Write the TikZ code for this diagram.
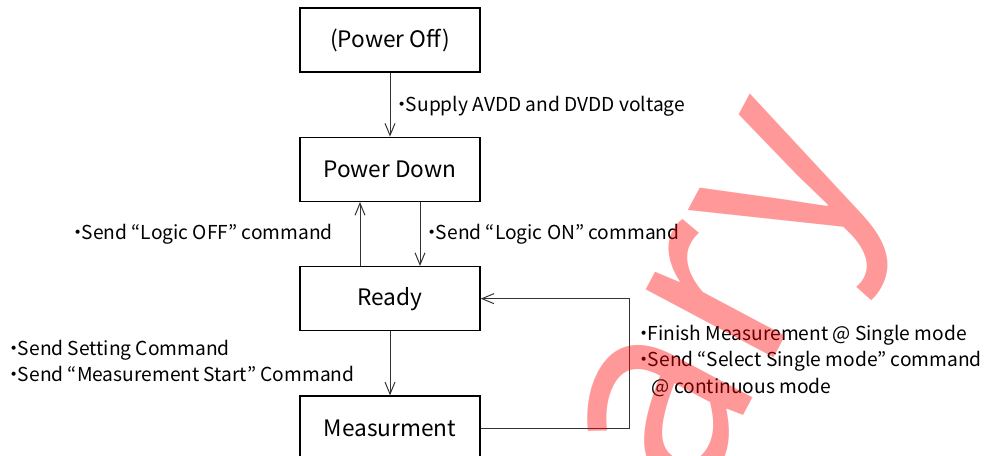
\documentclass[tikz,border=0pt]{standalone}
\usepackage{fontspec}
\setmainfont{Noto Sans CJK JP}
\newfontfamily\stampfont{Noto Sans CJK JP}
\usetikzlibrary{positioning, arrows.meta}
\newcommand{\bul}{\kern-0.3em・\kern-0.3em}
\tikzset{
        >={Straight Barb[length=9pt,width=7.5pt]}, % thin open arrow heads
        state box/.style={
		draw=black,
		line width=1pt,
		minimum width=135pt,
		minimum height=48pt,
		font=\fontsize{17}{20}\selectfont,
	  },
  		note/.style={
    	anchor=west,
    	align=left,
    	inner sep=0pt,
    	font=\fontsize{14.4}{19.8}\selectfont,
      },
        link/.style={->, draw=black!80, line width=0.75pt}, % connectors
        stamp/.style={
        text=red,
        text opacity=0.4,
        inner sep=0pt,
        font=\stampfont\fontsize{200}{200}\selectfont,
      }
  	}

\begin{document}
\begin{tikzpicture}[x=0.75pt, y=-0.75pt, node distance=48pt]
    \useasboundingbox (0,0) rectangle (987,456);
    \clip (0,0) rectangle (987,456);
    \node [state box] (off) at (390,40) {(Power Off)};
    \node [state box, below=of off] (down) {Power Down};
    \node [state box, below=of down] (ready) {Ready};
    \node [state box, below=of ready] (meas) {Measurment};
    \coordinate (turn) at (629,360);
    \draw [link] (off) -- (down);
    \draw [link] ([xshift=-22.5pt]ready.north) -- ([xshift=-22.5pt]down.south);
    \draw [link] ([xshift=22.5pt]down.south) -- ([xshift=22.5pt]ready.north);
    \draw [link] (ready) -- (meas);
    \draw [link] (meas.east) -| (turn) |- (ready.east);
    % transition notes
    \node [note] (supply) at (398,106) {\bul Supply AVDD and DVDD voltage};
    \node [note, anchor=east] (logicoff) at (333,234) {\bul Send “Logic OFF” command};
    \node [note] (logicon) at (428,234) {\bul Send “Logic ON” command};
    \node [note] (start) at (10,361) {\bul Send Setting Command\\\bul Send “Measurement Start” Command};
    \node [note] (finish) at (640,361) {\bul Finish Measurement @ Single mode\\\bul Send “Select Single mode” command\\\hspace{0.6em}@ continuous mode};
    % watermark
    \node [stamp, rotate=62, anchor=base west] (mark) at (692,512) {ary};
  \end{tikzpicture}
\end{document}
